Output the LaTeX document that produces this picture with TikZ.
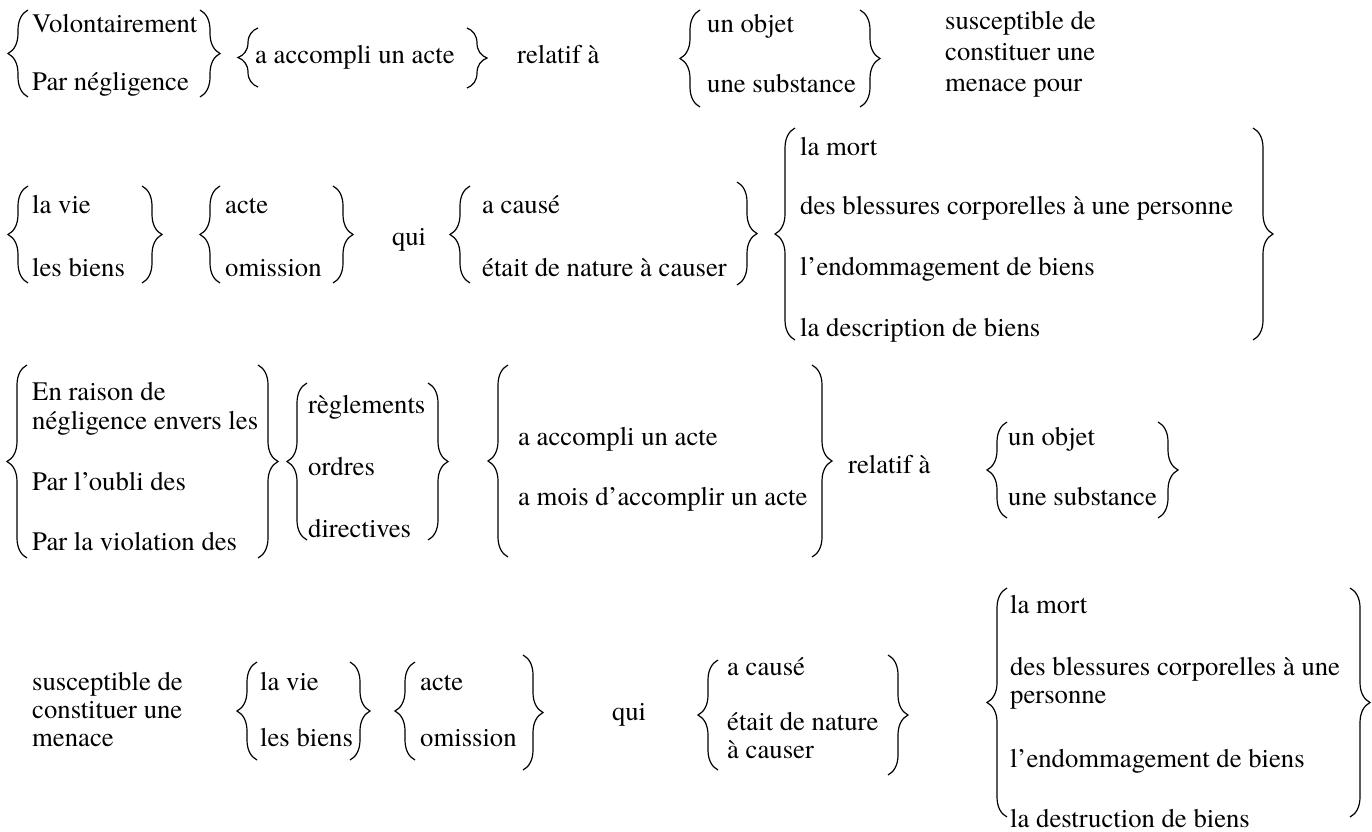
\documentclass[tikz,border=0pt]{standalone}
\usepackage{fontspec}
\setmainfont{texgyretermes}[Extension=.otf, UprightFont=*-regular, BoldFont=*-bold, ItalicFont=*-italic, BoldItalicFont=*-bolditalic]
\usetikzlibrary{decorations.pathreplacing}
\tikzset{
  txt/.style={anchor=base west, inner sep=0pt, font=\fontsize{26.7}{32}\selectfont},
  brc/.style={decorate, decoration={brace, amplitude=#1}, line width=1.2pt},
  brc/.default=20
}
% left brace: hooks at x=#2, from y #3 (top) to #4 (bottom)
\newcommand\LBr[4][20]{\draw[brc=#1] (#2,#4) -- (#2,#3);}
\newcommand\RBr[4][20]{\draw[brc=#1] (#2,#3) -- (#2,#4);}
\begin{document}
\begin{tikzpicture}[x=1pt,y=-1pt]
\useasboundingbox (0,0) rectangle (1372,831);
% ---- row 1
\LBr{28}{10}{97}
\node[txt] (v1) at (32,32) {Volontairement};
\node[txt] (v2) at (32,90) {Par négligence};
\RBr{200}{10}{97}
\LBr{258}{28}{87}
\node[txt] (a1) at (255,63) {a accompli un acte};
\RBr{467}{28}{88}
\node[txt] (r1) at (517,63) {relatif à};
\LBr{700}{10}{107}
\node[txt] (o1) at (707,32) {un objet};
\node[txt] (o2) at (707,92) {une substance};
\RBr{860}{10}{107}
\node[txt] (s1) at (945,29) {susceptible de};
\node[txt] (s2) at (945,60) {constituer une};
\node[txt] (s3) at (945,91) {menace pour};
% ---- row 2
\LBr{28}{186}{283}
\node[txt] (b1) at (32,213) {la vie};
\node[txt] (b2) at (32,276) {les biens};
\RBr{142}{186}{283}
\LBr{220}{186}{283}
\node[txt] (c1) at (225,213) {acte};
\node[txt] (c2) at (225,276) {omission};
\RBr{333}{186}{283}
\node[txt] (q1) at (392,245) {qui};
\LBr{470}{186}{283}
\node[txt] (d1) at (482,213) {a causé};
\node[txt] (d2) at (482,276) {était de nature à causer};
\RBr{737}{182}{285}
\LBr{795}{128}{340}
\node[txt] (e1) at (800,155) {la mort};
\node[txt] (e2) at (800,214) {des blessures corporelles à une personne};
\node[txt] (e3) at (800,275) {l’endommagement de biens};
\node[txt] (e4) at (800,336) {la description de biens};
\RBr{1253}{128}{340}
% ---- row 3
\LBr{27}{365}{558}
\node[txt] (f1) at (32,400) {En raison de};
\node[txt] (f2) at (32,429) {négligence envers les};
\node[txt] (f3) at (32,490) {Par l’oubli des};
\node[txt] (f4) at (32,550) {Par la violation des};
\RBr{258}{365}{558}
\LBr{307}{383}{540}
\node[txt] (g1) at (308,413) {règlements};
\node[txt] (g2) at (308,475) {ordres};
\node[txt] (g3) at (308,537) {directives};
\RBr{428}{383}{540}
\LBr{508}{365}{557}
\node[txt] (h1) at (518,445) {a accompli un acte};
\node[txt] (h2) at (518,505) {a mois d’accomplir un acte};
\RBr{812}{365}{557}
\node[txt] (r2) at (848,473) {relatif à};
\LBr{1007}{422}{518}
\node[txt] (i1) at (1008,445) {un objet};
\node[txt] (i2) at (1008,505) {une substance};
\RBr{1158}{422}{518}
% ---- row 4
\node[txt] (j1) at (32,690) {susceptible de};
\node[txt] (j2) at (32,718) {constituer une};
\node[txt] (j3) at (32,746) {menace};
\LBr{257}{662}{760}
\node[txt] (k1) at (260,690) {la vie};
\node[txt] (k2) at (260,746) {les biens};
\RBr{350}{662}{760}
\LBr{415}{662}{760}
\node[txt] (l1) at (420,690) {acte};
\node[txt] (l2) at (420,746) {omission};
\RBr{523}{655}{770}
\node[txt] (q2) at (612,720) {qui};
\LBr{718}{660}{770}
\node[txt] (m1) at (727,675) {a causé};
\node[txt] (m2) at (727,730) {était de nature};
\node[txt] (m3) at (727,758) {à causer};
\RBr{888}{655}{775}
\LBr{1007}{588}{817}
\node[txt] (n1) at (1010,613) {la mort};
\node[txt] (n2) at (1010,675) {des blessures corporelles à une};
\node[txt] (n3) at (1010,703) {personne};
\node[txt] (n4) at (1010,767) {l’endommagement de biens};
\node[txt] (n5) at (1010,827) {la destruction de biens};
\RBr{1350}{588}{817}
\end{tikzpicture}
\end{document}
